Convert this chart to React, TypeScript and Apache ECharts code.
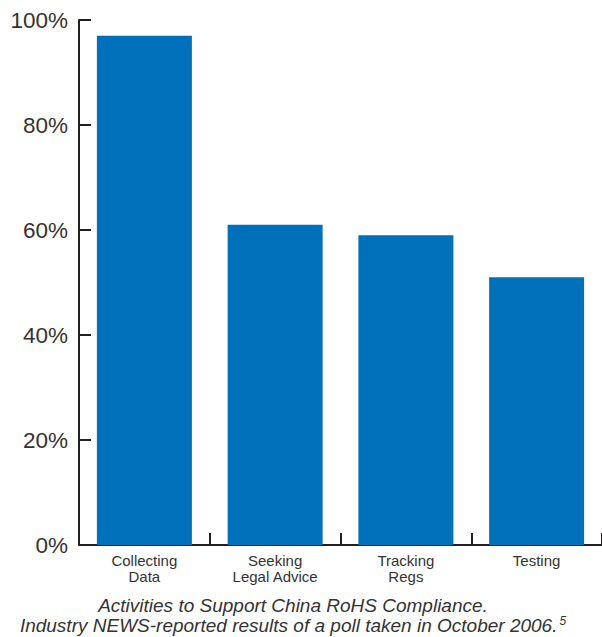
import React, { useEffect, useRef } from "react";
import * as echarts from "echarts";

const categories = ["Collecting\nData", "Seeking\nLegal Advice", "Tracking\nRegs", "Testing"];
const values = [97, 61, 59, 51];
const yTicks = [0, 20, 40, 60, 80, 100];
const captionLine1 = "Activities to Support China RoHS Compliance.";
const captionLine2 = "Industry NEWS-reported results of a poll taken in October 2006.";
const footnote = "5";

const FONT = "Liberation Sans, Arial, sans-serif";

export default function App() {
  const ref = useRef<HTMLDivElement>(null);
  useEffect(() => {
    document.body.style.margin = "0";
    const chart = echarts.init(ref.current!, null, { renderer: "svg" });
    const axisColor = "#231f20";
    chart.setOption({
      animation: false,
      backgroundColor: "#ffffff",
      grid: { left: 79, top: 20, width: 524, height: 525, containLabel: false },
      xAxis: {
        type: "category",
        data: categories,
        axisLine: { lineStyle: { color: axisColor, width: 2 } },
        axisTick: { show: true, inside: true, length: 12, lineStyle: { color: axisColor, width: 2 } },
        axisLabel: {
          color: "#333333",
          fontFamily: FONT,
          fontSize: 15,
          lineHeight: 16,
          margin: 7,
          interval: 0,
        },
      },
      yAxis: {
        type: "value",
        min: yTicks[0],
        max: yTicks[yTicks.length - 1],
        interval: 20,
        axisLine: { show: true, lineStyle: { color: axisColor, width: 2 } },
        axisTick: { show: true, inside: true, length: 12, lineStyle: { color: axisColor, width: 2 } },
        splitLine: { show: false },
        axisLabel: {
          formatter: "{value}%",
          color: "#333333",
          fontFamily: FONT,
          fontSize: 22.5,
          margin: 11,
        },
      },
      series: [
        {
          type: "bar",
          data: values,
          barWidth: 95,
          itemStyle: { color: "#0070bb" },
        },
      ],
      graphic: [
        {
          type: "text",
          x: 293,
          y: 596,
          style: {
            text: captionLine1,
            align: "center",
            verticalAlign: "top",
            font: `italic 19px ${FONT}`,
            fill: "#333333",
          },
        },
        {
          type: "text",
          x: 293,
          y: 615,
          style: {
            text: `{a|${captionLine2}}{s|${footnote}}`,
            align: "center",
            verticalAlign: "top",
            rich: {
              a: {
                fontFamily: FONT,
                fontStyle: "italic",
                fontSize: 19,
                lineHeight: 20,
                fill: "#333333",
              },
              s: {
                fontFamily: FONT,
                fontStyle: "italic",
                fontSize: 12,
                lineHeight: 20,
                verticalAlign: "top",
                padding: [0, 0, 10, 2],
                fill: "#333333",
              },
            },
          },
        },
      ],
    });
    return () => chart.dispose();
  }, []);
  return <div ref={ref} style={{ width: 602, height: 637 }} />;
}
